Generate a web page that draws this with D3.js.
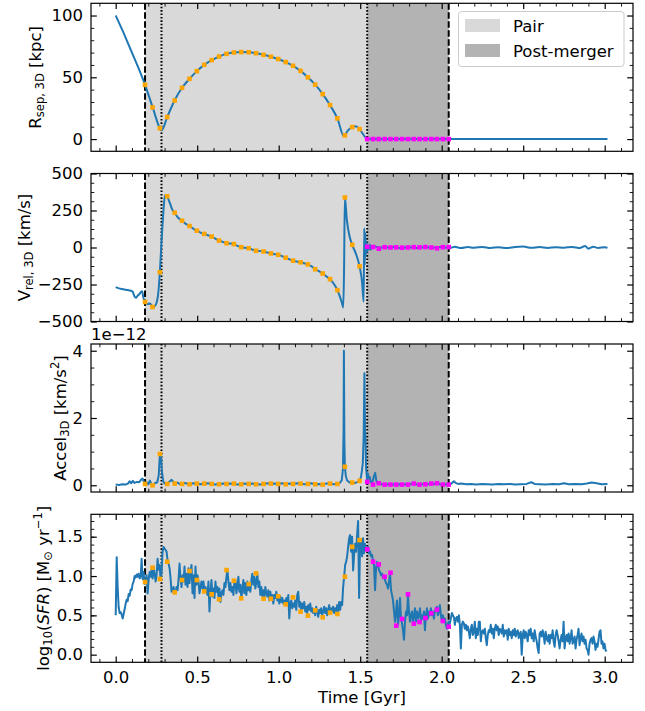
<!DOCTYPE html>
<html>
<head>
<meta charset="utf-8">
<script src="https://cdn.jsdelivr.net/npm/d3@7"></script>
<style>
  body { margin: 0; background: #fff; }
  svg { display: block; font-family: "DejaVu Sans", sans-serif; }
</style>
</head>
<body>
<div id="chart"></div>
<script>
// ---- phase boundaries (Gyr) ----
const pairSpan = [0.180, 1.543];
const postSpan = [1.543, 2.043];
const dashedTimes = [0.180, 2.043];
const dottedTimes = [0.281, 1.543];

// ---- marker snapshots ----
const orangeTimes = [0.180, 0.226, 0.271, 0.316, 0.362, 0.407, 0.453, 0.498, 0.543, 0.589,
  0.634, 0.680, 0.725, 0.770, 0.816, 0.861, 0.907, 0.952, 0.997, 1.043,
  1.088, 1.134, 1.179, 1.224, 1.270, 1.315, 1.360, 1.406, 1.451, 1.496];
const magentaTimes = [1.543, 1.579, 1.614, 1.650, 1.686, 1.721, 1.757, 1.793, 1.829, 1.864,
  1.900, 1.936, 1.971, 2.007, 2.043];

const orangeSep = [43.9, 25.6, 8.8, 17.8, 31.2, 41.5, 48.8, 55.0, 60.1, 63.9,
  66.8, 69.0, 70.1, 70.4, 70.3, 69.5, 68.2, 66.7, 64.8, 62.3,
  59.3, 55.2, 50.0, 44.0, 36.4, 27.5, 16.7, 3.0, 9.7, 8.1];
const magentaSep = [0, 0, 0, 0, 0, 0, 0, 0, 0, 0, 0, 0, 0, 0, 0];

const orangeVel = [-368, -402, -167, 346, 235, 181, 145, 114, 92, 74,
  47, 29, 23, 2, -5, -22, -27, -40, -49, -69,
  -89, -100, -114, -147, -176, -214, -288, 338, 18, -127];
const magentaVel = [5, 3, -8, 2, 0, 1, -1, 0, 2, 1, 3, 0, -5, 2, 3];

const orangeAcc = [0.04, 0.00, 0.93, 0.04, 0.05, 0.04, 0.03, 0.05, 0.05, 0.04,
  0.03, 0.04, 0.05, 0.03, 0.04, 0.03, 0.04, 0.05, 0.04, 0.03,
  0.04, 0.05, 0.04, 0.03, 0.02, 0.05, 0.04, 0.55, 0.08, 0.13];
const magentaAcc = [0.10, 0.02, 0.06, 0.02, 0.02, 0.02, 0.02, 0.02, 0.05, 0.02, 0.03, 0.05, 0.06, 0.02, 0.02];

const orangeSfr = [0.924, 1.106, 0.962, 1.182, 0.793, 0.949, 1.064, 0.949, 0.805, 0.767,
  0.703, 1.076, 0.940, 0.716, 0.898, 1.034, 0.711, 0.711, 0.742, 0.640,
  0.729, 0.547, 0.496, 0.564, 0.475, 0.534, 0.517, 0.991, 1.372, 1.457];
const magentaSfr = [1.339, 1.182, 1.148, 0.991, 1.042, 0.369, 0.454, 0.767, 0.394, 0.415,
  0.466, 0.526, 0.572, 0.428, 0.356];

// ---- separation [kpc] ----
const sepCurve = [[0, 100], [0.045, 87], [0.09, 73], [0.135, 59], [0.180, 43.9], [0.227, 25.6],
  [0.271, 8.8], [0.281, 7.0], [0.316, 17.8], [0.361, 31.2], [0.407, 41.5], [0.453, 48.8],
  [0.498, 55.0], [0.543, 60.1], [0.589, 63.9], [0.634, 66.8], [0.680, 69.0], [0.725, 70.1],
  [0.770, 70.4], [0.816, 70.3], [0.861, 69.5], [0.907, 68.2], [0.952, 66.7], [0.997, 64.8],
  [1.043, 62.3], [1.088, 59.3], [1.134, 55.2], [1.179, 50.0], [1.224, 44.0], [1.270, 36.4],
  [1.315, 27.5], [1.360, 16.7], [1.400, 2.3], [1.425, 7.0], [1.451, 9.7], [1.470, 10.3],
  [1.496, 8.1], [1.520, 3.5], [1.543, 0], [2.043, 0], [3.017, 0]];

// ---- relative velocity [km/s] ----
const velCurve = [[0, -268], [0.02, -276], [0.04, -281], [0.06, -285], [0.08, -289], [0.095, -292],
  [0.105, -300], [0.115, -330], [0.125, -340], [0.135, -325], [0.145, -315], [0.155, -300],
  [0.162, -296], [0.170, -340], [0.180, -368], [0.195, -382], [0.210, -378], [0.227, -402],
  [0.240, -396], [0.251, -372], [0.260, -320], [0.271, -167], [0.281, 40], [0.291, 219],
  [0.300, 335], [0.306, 355], [0.316, 346], [0.326, 318], [0.337, 286], [0.349, 252],
  [0.361, 235], [0.383, 201], [0.407, 181], [0.430, 160], [0.453, 145], [0.475, 128],
  [0.498, 114], [0.520, 101], [0.543, 92], [0.566, 83], [0.589, 74], [0.611, 60],
  [0.634, 47], [0.657, 38], [0.680, 29], [0.702, 27], [0.725, 23], [0.747, 11],
  [0.770, 2], [0.793, -2], [0.816, -5], [0.838, -14], [0.861, -22], [0.884, -24],
  [0.907, -27], [0.930, -34], [0.952, -40], [0.975, -45], [0.997, -49], [1.020, -58],
  [1.043, -69], [1.066, -80], [1.088, -89], [1.111, -95], [1.134, -100], [1.157, -107],
  [1.179, -114], [1.202, -128], [1.224, -147], [1.247, -160], [1.270, -176], [1.293, -196],
  [1.315, -214], [1.338, -245], [1.360, -288], [1.375, -330], [1.388, -375], [1.396, -405],
  [1.401, -150], [1.406, 338], [1.418, 186], [1.435, 74], [1.451, 18], [1.476, -49],
  [1.496, -127], [1.512, -239], [1.521, -366], [1.525, 130], [1.528, -120], [1.531, 100],
  [1.534, -60], [1.538, 40], [1.542, -30], [1.546, 15], [1.552, -15], [1.558, 20],
  [1.565, -15], [1.572, 12], [1.580, -5], [1.590, 8], [1.60, 3], [1.65, -2], [1.70, 4],
  [1.75, -3], [1.80, 2], [1.85, -4], [1.90, 3], [1.95, -2], [2.00, 4], [2.05, -3],
  [2.08, 5], [2.12, -4], [2.16, 3], [2.20, -2], [2.25, 4], [2.30, -3], [2.35, 2],
  [2.40, -4], [2.45, 3], [2.50, 6], [2.55, -2], [2.60, 3], [2.65, -3], [2.70, 2],
  [2.75, -2], [2.80, 4], [2.85, -3], [2.88, 10], [2.90, -8], [2.93, 5], [2.96, -3],
  [3.00, 2], [3.017, -2]];

// ---- acceleration [1e-12 km/s^2] ----
const accCurve = [[0, 0.02], [0.02, 0.01], [0.04, 0.03], [0.06, 0.02], [0.075, 0.05], [0.085, 0.12],
  [0.095, 0.06], [0.105, 0.13], [0.115, 0.07], [0.13, 0.10], [0.145, 0.09], [0.155, 0.16],
  [0.165, 0.20], [0.172, 0.12], [0.180, 0.04], [0.190, 0.09], [0.200, 0.03], [0.210, 0.14],
  [0.218, 0.04], [0.227, 0.00], [0.240, 0.06], [0.255, 0.09], [0.264, 0.30], [0.271, 0.93],
  [0.277, 0.96], [0.283, 0.45], [0.291, 0.12], [0.300, 0.05], [0.316, 0.04], [0.330, 0.11],
  [0.343, 0.16], [0.355, 0.09], [0.362, 0.05], [0.380, 0.08], [0.395, 0.03], [0.407, 0.05],
  [0.425, 0.07], [0.453, 0.03], [0.475, 0.06], [0.498, 0.05], [0.52, 0.03], [0.543, 0.05],
  [0.565, 0.06], [0.589, 0.04], [0.61, 0.02], [0.634, 0.04], [0.66, 0.05], [0.68, 0.03],
  [0.70, 0.05], [0.725, 0.04], [0.75, 0.02], [0.77, 0.04], [0.79, 0.05], [0.816, 0.03],
  [0.84, 0.05], [0.861, 0.04], [0.885, 0.02], [0.907, 0.04], [0.93, 0.06], [0.952, 0.03],
  [0.975, 0.05], [0.997, 0.04], [1.02, 0.06], [1.043, 0.03], [1.066, 0.05], [1.088, 0.04],
  [1.11, 0.06], [1.134, 0.05], [1.157, 0.03], [1.179, 0.04], [1.20, 0.06], [1.224, 0.03],
  [1.247, 0.04], [1.270, 0.02], [1.29, 0.05], [1.315, 0.05], [1.34, 0.03], [1.360, 0.04],
  [1.375, 0.07], [1.387, 0.15], [1.394, 0.47], [1.398, 1.6], [1.400, 4.0], [1.403, 1.3],
  [1.406, 0.55], [1.412, 0.27], [1.420, 0.14], [1.435, 0.08], [1.451, 0.08], [1.47, 0.07],
  [1.485, 0.10], [1.496, 0.13], [1.505, 0.25], [1.511, 0.45], [1.516, 0.66], [1.521, 1.4],
  [1.526, 3.33], [1.530, 1.6], [1.533, 1.26], [1.536, 0.5], [1.540, 0.3], [1.543, 0.10],
  [1.547, 0.35], [1.552, 0.2], [1.558, 0.25], [1.565, 0.08], [1.575, 0.1], [1.585, 0.28],
  [1.592, 0.37], [1.598, 0.15], [1.605, 0.06], [1.614, 0.06], [1.63, 0.03], [1.65, 0.02],
  [1.67, 0.03], [1.686, 0.02], [1.70, 0.03], [1.721, 0.02], [1.74, 0.03], [1.757, 0.02],
  [1.775, 0.03], [1.793, 0.02], [1.81, 0.04], [1.829, 0.05], [1.845, 0.03], [1.864, 0.02],
  [1.88, 0.03], [1.900, 0.03], [1.92, 0.04], [1.936, 0.05], [1.955, 0.04], [1.971, 0.06],
  [1.99, 0.03], [2.007, 0.02], [2.025, 0.03], [2.043, 0.02], [2.06, 0.05], [2.075, 0.12],
  [2.085, 0.07], [2.10, 0.04], [2.12, 0.05], [2.15, 0.03], [2.18, 0.04], [2.21, 0.02],
  [2.25, 0.04], [2.28, 0.03], [2.31, 0.02], [2.35, 0.04], [2.38, 0.03], [2.42, 0.04],
  [2.45, 0.02], [2.48, 0.03], [2.52, 0.04], [2.55, 0.09], [2.57, 0.04], [2.60, 0.03],
  [2.64, 0.02], [2.68, 0.04], [2.72, 0.03], [2.75, 0.06], [2.78, 0.03], [2.82, 0.04],
  [2.86, 0.03], [2.89, 0.05], [2.92, 0.08], [2.95, 0.06], [2.98, 0.03], [3.017, 0.04]];

// ---- log10 SFR, one value per snapshot ----
const sfrStart = 0;
const sfrStep = 0.00612;
const sfrValues = [
  0.50,1.24,0.85,0.60,0.53,0.54,0.51,0.46,0.52,0.58,
  0.65,0.70,0.68,0.77,0.75,0.83,0.82,0.90,0.93,1.00,
  0.98,1.02,0.99,1.03,0.97,0.99,1.22,0.96,1.05,0.90,
  0.92,1.01,0.78,0.95,1.05,0.99,1.08,0.97,1.11,1.03,
  0.93,1.01,1.22,1.08,1.14,0.96,1.05,1.31,1.37,1.35,
  1.33,1.31,1.20,1.16,1.10,0.97,0.80,0.82,0.86,0.78,
  0.79,0.86,0.82,0.95,1.16,0.97,0.86,1.01,0.93,1.12,
  0.89,1.03,0.86,1.10,0.91,1.06,1.14,0.78,1.01,0.72,
  1.12,0.89,1.01,0.93,0.78,0.86,0.93,0.84,0.93,0.80,
  0.86,0.80,0.76,0.93,0.55,0.80,0.95,0.74,0.84,0.72,
  0.93,0.80,0.86,0.74,0.84,0.67,0.78,0.82,0.76,0.91,
  0.86,0.99,1.08,0.93,0.82,0.91,0.80,0.86,0.76,0.93,
  0.95,0.78,0.86,0.99,0.80,0.89,0.72,0.84,0.95,0.78,
  0.91,0.76,0.93,0.82,0.89,0.80,0.95,1.03,0.89,0.99,
  0.84,0.93,1.03,0.86,0.93,0.76,0.86,0.74,0.82,0.72,
  0.86,0.78,0.74,0.82,0.69,0.80,0.72,0.76,0.65,0.76,
  0.72,0.80,0.69,0.74,0.65,0.74,0.67,0.72,0.65,0.69,
  0.63,
  0.72,0.65,0.76,0.46,0.65,0.69,0.59,0.65,0.61,0.69,
  0.57,0.76,0.80,0.61,0.67,0.55,0.65,0.59,0.67,0.55,
  0.61,0.53,0.63,0.57,0.65,0.55,0.59,0.53,0.57,0.50,
  0.61,0.55,0.48,0.57,0.53,0.59,0.50,0.55,0.61,0.53,
  0.59,0.50,0.57,0.63,0.53,0.59,0.55,0.61,0.53,0.59,
  0.55,0.63,0.55,0.67,0.57,0.67,0.63,0.86,0.99,1.14,
  1.18,1.25,1.37,1.48,1.52,1.31,1.50,1.07,1.27,1.41,
  1.31,1.52,1.70,0.72,1.41,1.46,1.25,1.48,1.29,1.41,
  1.33,1.35,1.37,1.29,1.31,1.25,1.27,1.18,1.14,0.82,
  1.10,1.18,1.14,1.07,1.05,1.01,1.03,0.97,0.99,0.95,
  0.91,0.89,0.84,0.93,1.03,0.82,0.76,0.69,0.55,0.42,
  0.55,0.69,0.38,0.50,0.72,0.46,0.40,0.31,0.19,0.42,
  0.55,0.50,0.76,0.55,0.42,0.50,0.55,0.40,0.50,0.59,
  0.42,0.55,0.46,0.50,0.59,0.42,0.50,0.46,0.55,0.31,
  0.50,0.59,0.46,0.55,0.50,0.59,0.50,0.55,0.46,0.55,
  0.59,0.61,0.50,0.55,0.63,0.50,0.42,0.50,0.42,0.46,
  0.38,0.33,0.38,0.42,
  0.40,0.46,0.53,0.50,0.48,0.38,0.46,0.48,0.42,0.50,
  0.38,0.08,0.38,0.42,0.40,0.33,0.38,0.31,0.36,0.29,
  0.21,0.33,0.38,0.25,0.29,0.42,0.21,0.33,0.25,0.42,
  0.42,0.17,0.29,0.31,0.27,0.33,0.21,0.12,0.25,0.31,
  0.29,0.38,0.27,0.33,0.21,0.33,0.38,0.31,0.36,0.25,
  0.33,0.31,0.27,0.38,0.23,0.31,0.27,0.31,0.19,0.33,
  0.25,0.29,0.21,0.31,0.25,0.33,0.23,0.29,0.31,0.21,
  0.27,0.29,0.00,0.25,0.31,0.21,0.29,0.25,0.17,0.31,
  0.25,0.33,0.21,0.27,0.17,0.31,0.23,0.17,0.08,0.02,
  0.27,0.29,0.23,0.31,0.25,0.14,0.29,0.21,0.17,0.25,
  0.14,0.25,0.21,0.31,0.17,0.10,0.25,0.31,0.25,0.17,
  0.08,0.19,0.25,0.17,0.42,0.08,0.21,0.25,0.17,0.27,
  0.14,0.21,0.31,0.14,0.17,0.23,0.08,0.19,0.25,0.33,
  0.12,0.21,0.27,0.17,0.23,0.14,0.19,0.08,0.06,0.00,
  0.14,0.19,0.21,0.14,0.23,0.17,0.06,0.14,0.10,0.19,
  0.29,0.31,0.14,0.17,0.08,0.14,0.06,0.04
];

// ---- ticks ----
const timeTicks = [0, 0.5, 1.0, 1.5, 2.0, 2.5, 3.0];
const timeTickLabels = ["0.0", "0.5", "1.0", "1.5", "2.0", "2.5", "3.0"];
const sepTicks = [0, 50, 100];
const sepTickLabels = ["0", "50", "100"];
const velTicks = [-500, -250, 0, 250, 500];
const velTickLabels = ["\u2212500", "\u2212250", "0", "250", "500"];
const accTicks = [0, 2, 4];
const accTickLabels = ["0", "2", "4"];
const sfrTicks = [0, 0.5, 1.0, 1.5];
const sfrTickLabels = ["0.0", "0.5", "1.0", "1.5"];

const legendLabels = ["Pair", "Post-merger"];

// ---- layout ----
const W = 645, H = 711;
const plotL = 91, plotR = 633, panelH = 148;
const FS = 16.5;
const blue = "#1f77b4", pairFill = "#d9d9d9", postFill = "#b3b3b3";

const svg = d3.select("#chart").append("svg").attr("width", W).attr("height", H);
svg.append("rect").attr("width", W).attr("height", H).attr("fill", "#fff");

const x = d3.scaleLinear().domain([-0.1515, 3.1736]).range([plotL, plotR]);

const sfrCurve = sfrValues.map((v, i) => [sfrStart + i * sfrStep, v]);

const panels = [
  { id: "sep", top: 3.3, domain: [-9.9, 109.9], curve: sepCurve, smooth: true,
    ticks: sepTicks, tickLabels: sepTickLabels, minor: d3.range(10, 100, 10).filter(v => v % 50),
    orange: orangeSep, magenta: magentaSep, labelX: 35,
    label: [["R"], ["sep, 3D", "sub"], [" [kpc]"]] },
  { id: "vel", top: 173.5, domain: [-500, 500], curve: velCurve, smooth: true,
    ticks: velTicks, tickLabels: velTickLabels, minor: d3.range(-437.5, 500, 62.5).filter(v => v % 250),
    orange: orangeVel, magenta: magentaVel, labelX: 24,
    label: [["V"], ["rel, 3D", "sub"], [" [km/s]"]] },
  { id: "acc", top: 344, domain: [-0.2, 4.2], curve: accCurve, smooth: false,
    ticks: accTicks, tickLabels: accTickLabels, minor: [0.5, 1, 1.5, 2.5, 3, 3.5],
    orange: orangeAcc, magenta: magentaAcc, labelX: 60,
    label: [["Accel"], ["3D", "sub"], [" [km/s"], ["2", "sup"], ["]"]] },
  { id: "sfr", top: 514.3, domain: [-0.097, 1.785], curve: sfrCurve, smooth: false,
    ticks: sfrTicks, tickLabels: sfrTickLabels, minor: d3.range(0.1, 1.75, 0.1),
    orange: orangeSfr, magenta: magentaSfr, labelX: 43,
    label: [["log"], ["10", "sub"], ["("], ["SFR", "it"], [") [M"], ["\u2299", "sub"], [" yr"], ["\u22121", "sup"], ["]"]] }
];

const timeMinor = d3.range(-0.1, 3.15, 0.1).filter(v => Math.abs(v * 2 - Math.round(v * 2)) > 1e-6);

function styleAxis(sel, width) {
  sel.select(".domain").remove();
  sel.attr("font-family", null).attr("font-size", null);
  sel.selectAll("line").attr("stroke", "#000").attr("stroke-width", width);
  sel.selectAll("text").attr("fill", "#000").attr("font-size", FS);
}

function drawLabel(cx, cy, parts) {
  const t = svg.append("text")
    .attr("transform", `translate(${cx},${cy}) rotate(-90)`)
    .attr("text-anchor", "middle").attr("font-size", FS).attr("y", 0.35 * FS);
  let shift = 0;
  parts.forEach(([s, kind]) => {
    const ts = t.append("tspan").text(s);
    let target = 0;
    if (kind === "sub") { ts.attr("font-size", FS * 0.7); target = 0.22 * FS; }
    if (kind === "sup") { ts.attr("font-size", FS * 0.7); target = -0.4 * FS; }
    if (kind === "it") ts.attr("font-style", "italic");
    if (target !== shift) ts.attr("dy", target - shift);
    shift = target;
  });
}

panels.forEach((p, k) => {
  const top = p.top, bottom = p.top + panelH;
  const y = d3.scaleLinear().domain(p.domain).range([bottom, top]);
  const g = svg.append("g");

  svg.append("clipPath").attr("id", "clip-" + p.id).append("rect")
    .attr("x", plotL).attr("y", top).attr("width", plotR - plotL).attr("height", panelH);
  const plot = g.append("g").attr("clip-path", `url(#clip-${p.id})`);

  // phase shading
  plot.append("rect").attr("x", x(pairSpan[0])).attr("width", x(pairSpan[1]) - x(pairSpan[0]))
    .attr("y", top).attr("height", panelH).attr("fill", pairFill);
  plot.append("rect").attr("x", x(postSpan[0])).attr("width", x(postSpan[1]) - x(postSpan[0]))
    .attr("y", top).attr("height", panelH).attr("fill", postFill);

  // event lines
  plot.selectAll(".dash").data(dashedTimes).join("line")
    .attr("x1", d => x(d)).attr("x2", d => x(d)).attr("y1", top).attr("y2", bottom)
    .attr("stroke", "#000").attr("stroke-width", 2).attr("stroke-dasharray", "6.5,2.5");
  plot.selectAll(".dot").data(dottedTimes).join("line")
    .attr("x1", d => x(d)).attr("x2", d => x(d)).attr("y1", top).attr("y2", bottom)
    .attr("stroke", "#000").attr("stroke-width", 2).attr("stroke-dasharray", "1.6,1.8");

  // data line
  const line = d3.line().x(d => x(d[0])).y(d => y(d[1]))
    .curve(p.smooth ? d3.curveMonotoneX : d3.curveLinear);
  plot.append("path").datum(p.curve).attr("fill", "none").attr("stroke", blue)
    .attr("stroke-width", 2).attr("stroke-linejoin", "round").attr("d", line);

  // snapshot markers
  const ms = 4.6;
  plot.selectAll(".mo").data(orangeTimes.map((t, i) => [t, p.orange[i]])).join("rect")
    .attr("x", d => x(d[0]) - ms / 2).attr("y", d => y(d[1]) - ms / 2)
    .attr("width", ms).attr("height", ms).attr("fill", "orange");
  plot.selectAll(".mm").data(magentaTimes.map((t, i) => [t, p.magenta[i]])).join("rect")
    .attr("x", d => x(d[0]) - ms / 2).attr("y", d => y(d[1]) - ms / 2)
    .attr("width", ms).attr("height", ms).attr("fill", "magenta");

  // ticks on all four sides, pointing inward
  const isLast = k === panels.length - 1;
  g.append("g").attr("transform", `translate(${plotL},0)`)
    .call(d3.axisLeft(y).tickValues(p.ticks).tickSize(-5.8).tickPadding(8)
      .tickFormat((d, i) => p.tickLabels[i])).call(s => styleAxis(s, 1.2));
  g.append("g").attr("transform", `translate(${plotL},0)`)
    .call(d3.axisLeft(y).tickValues(p.minor).tickSize(-3.3).tickFormat("")).call(s => styleAxis(s, 0.9));
  g.append("g").attr("transform", `translate(${plotR},0)`)
    .call(d3.axisRight(y).tickValues(p.ticks).tickSize(-5.8).tickFormat("")).call(s => styleAxis(s, 1.2));
  g.append("g").attr("transform", `translate(${plotR},0)`)
    .call(d3.axisRight(y).tickValues(p.minor).tickSize(-3.3).tickFormat("")).call(s => styleAxis(s, 0.9));
  g.append("g").attr("transform", `translate(0,${bottom})`)
    .call(d3.axisBottom(x).tickValues(timeTicks).tickSize(-5.8).tickPadding(9.4)
      .tickFormat((d, i) => isLast ? timeTickLabels[i] : "")).call(s => styleAxis(s, 1.2));
  g.append("g").attr("transform", `translate(0,${bottom})`)
    .call(d3.axisBottom(x).tickValues(timeMinor).tickSize(-3.3).tickFormat("")).call(s => styleAxis(s, 0.9));
  g.append("g").attr("transform", `translate(0,${top})`)
    .call(d3.axisTop(x).tickValues(timeTicks).tickSize(-5.8).tickFormat("")).call(s => styleAxis(s, 1.2));
  g.append("g").attr("transform", `translate(0,${top})`)
    .call(d3.axisTop(x).tickValues(timeMinor).tickSize(-3.3).tickFormat("")).call(s => styleAxis(s, 0.9));

  // frame
  g.append("rect").attr("x", plotL).attr("y", top).attr("width", plotR - plotL).attr("height", panelH)
    .attr("fill", "none").attr("stroke", "#000").attr("stroke-width", 1.2);

  drawLabel(p.labelX, top + panelH / 2, p.label);
});

// offset text of the acceleration axis
svg.append("text").attr("x", plotL).attr("y", 340).attr("font-size", FS).text("1e\u221212");

// x axis label
svg.append("text").attr("x", (plotL + plotR) / 2).attr("y", 703).attr("text-anchor", "middle")
  .attr("font-size", FS).text("Time [Gyr]");

// legend
const leg = svg.append("g");
leg.append("rect").attr("x", 458.5).attr("y", 11.5).attr("width", 165.5).attr("height", 55)
  .attr("rx", 3).attr("fill", "#fff").attr("fill-opacity", 0.8).attr("stroke", "#cccccc");
[pairFill, postFill].forEach((c, i) => {
  leg.append("rect").attr("x", 465).attr("y", 19 + i * 25).attr("width", 35).attr("height", 13)
    .attr("fill", c);
  leg.append("text").attr("x", 513).attr("y", 31.5 + i * 25).attr("font-size", FS)
    .text(legendLabels[i]);
});
</script>
</body>
</html>
